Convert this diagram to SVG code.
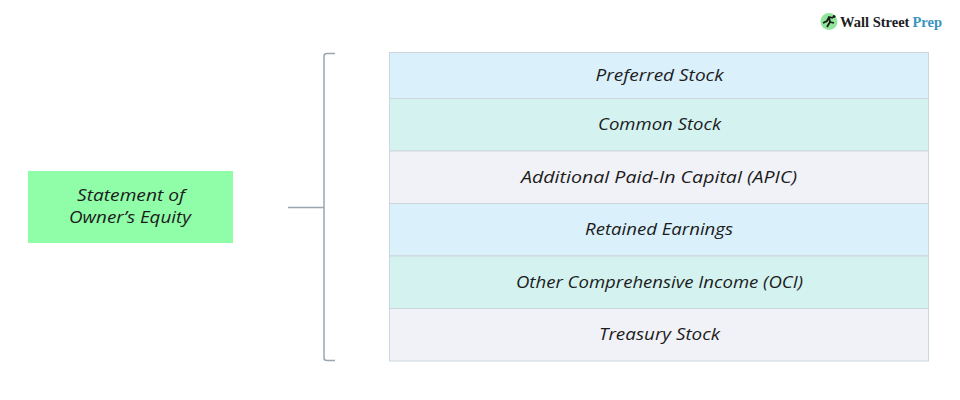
<svg xmlns="http://www.w3.org/2000/svg" width="960" height="400" viewBox="0 0 960 400">
<style>
.t{font-family:"Open Sans","Liberation Sans",sans-serif;font-style:italic;font-size:17px;fill:#1c1c1c;text-anchor:middle}
.row{stroke:#cdd6dc;stroke-width:1}
.b{fill:#daf0fb}.g{fill:#d3f2f0}.w{fill:#f1f2f7}
.con{fill:none;stroke:#9aa7b0;stroke-width:1.500}
.logo{font-family:"Liberation Serif",serif;font-weight:700;font-size:14.500px}
</style>
<rect width="960" height="400" fill="#fff"/>
<g id="logo">
<circle cx="829" cy="21.500" r="8.500" fill="#8fe59a"/>
<path d="M823 23l4-2 2-4 4 1M829 17l1 5-3 5M830 22l4 1" fill="none" stroke="#1a1a1a" stroke-width="1.800"/>
<circle cx="834" cy="16.500" r="1.500" fill="#1a1a1a"/>
<text class="logo" x="840" y="27" fill="#1d1d1f">Wall Street</text>
<text class="logo" x="912.500" y="27" fill="#3a93bd">Prep</text>
</g>
<g id="connectors">
<path class="con" d="M288 207.500H324"/>
<path class="con" d="M335 53.500H327Q324 53.500 324 56V358Q324 360.500 327 360.500H335"/>
</g>
<g id="root">
<rect x="28" y="171" width="205" height="72" fill="#90fda8"/>
<text class="t" x="131" y="201" textLength="108" lengthAdjust="spacingAndGlyphs">Statement of</text>
<text class="t" x="130" y="223" textLength="122" lengthAdjust="spacingAndGlyphs">Owner’s Equity</text>
</g>
<g id="preferred-stock">
<rect class="row b" x="389.500" y="52.500" width="539" height="46"/>
<text class="t" x="659.500" y="81" textLength="128" lengthAdjust="spacingAndGlyphs">Preferred Stock</text>
</g>
<g id="common-stock">
<rect class="row g" x="389.500" y="98.500" width="539" height="52.500"/>
<text class="t" x="659.500" y="130" textLength="123" lengthAdjust="spacingAndGlyphs">Common Stock</text>
</g>
<g id="apic">
<rect class="row w" x="389.500" y="151" width="539" height="52.500"/>
<text class="t" x="659" y="183" textLength="276" lengthAdjust="spacingAndGlyphs">Additional Paid-In Capital (APIC)</text>
</g>
<g id="retained-earnings">
<rect class="row b" x="389.500" y="203.500" width="539" height="52.500"/>
<text class="t" x="659" y="235" textLength="148" lengthAdjust="spacingAndGlyphs">Retained Earnings</text>
</g>
<g id="oci">
<rect class="row g" x="389.500" y="256" width="539" height="52.500"/>
<text class="t" x="659.500" y="288" textLength="287" lengthAdjust="spacingAndGlyphs">Other Comprehensive Income (OCI)</text>
</g>
<g id="treasury-stock">
<rect class="row w" x="389.500" y="308.500" width="539" height="52.500"/>
<text class="t" x="659.500" y="340" textLength="121" lengthAdjust="spacingAndGlyphs">Treasury Stock</text>
</g>
</svg>
